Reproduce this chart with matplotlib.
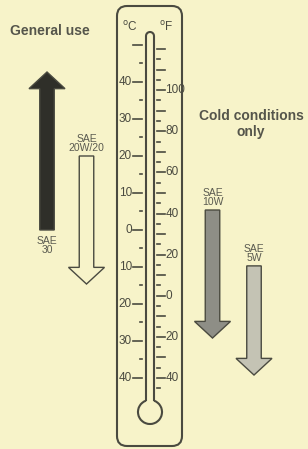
import matplotlib.pyplot as plt
from matplotlib.patches import FancyBboxPatch, Arc

# oil grades and the temperature range (deg C) each one covers
grades = ["SAE\n30", "SAE\n20W/20", "SAE\n10W", "SAE\n5W"]
range_start = [0, 20, 5.4, -9.7]
range_end = [42.7, -14.6, -29.2, -39.2]
arrow_x = [47, 86.5, 212.5, 254]
arrow_fill = ["#2f2f29", "#f7f3c9", "#8e8e86", "#c4c3b4"]

# thermometer scales
c_major = [50, 40, 30, 20, 10, 0, -10, -20, -30, -40]
c_minor = [45, 35, 25, 15, 5, -5, -15, -25, -35]
f_ticks = list(range(120, -50, -5))
f_labels = [100, 80, 60, 40, 20, 0, -20, -40]

BG = "#f7f3c9"
INK = "#4a4a40"

fig = plt.figure(figsize=(3.08, 4.49), dpi=100, facecolor=BG)

# pixel-space layer for the thermometer body
frame = fig.add_axes([0, 0, 1, 1])
frame.set_xlim(0, 308)
frame.set_ylim(449, 0)
frame.axis("off")
frame.set_facecolor(BG)

body = FancyBboxPatch((117, 6), 65, 440, boxstyle="round,pad=0,rounding_size=10",
                      facecolor="none", edgecolor=INK, lw=1.5)
frame.add_patch(body)
# tube and bulb
frame.plot([146, 146], [36, 400.7], color=INK, lw=1.5, solid_capstyle="butt")
frame.plot([154, 154], [36, 400.7], color=INK, lw=1.5, solid_capstyle="butt")
frame.add_patch(Arc((150, 36), 8, 8, theta1=180, theta2=360, color=INK, lw=1.5))
frame.add_patch(Arc((150, 412), 24, 24, theta1=289.5, theta2=250.5, color=INK, lw=1.5))

frame.text(122, 27, r"$^{\mathrm{o}}$C", fontsize=8.5, color=INK, family="Liberation Sans", va="center")
frame.text(159, 27, r"$^{\mathrm{o}}$F", fontsize=8.5, color=INK, family="Liberation Sans", va="center")

frame.text(50, 31, "General use", fontsize=10, fontweight="bold", color="#55554b",
           family="Liberation Sans", ha="center", va="center")
frame.text(251, 124, "Cold conditions\nonly", fontsize=10, fontweight="bold", color="#55554b",
           family="Liberation Sans", ha="center", va="center", linespacing=1.2)

# temperature layer: x in pixels, y in deg C
ax = fig.add_axes([0, 0, 1, 1])
ax.set_xlim(0, 308)
ax.set_ylim(-59.19, 62.16)
ax.axis("off")
ax.patch.set_alpha(0)

num_kw = dict(fontsize=8.5, color=INK, family="Liberation Sans", va="center")

for c in c_major:
    ax.plot([133, 142], [c, c], color=INK, lw=1.2)
    if c != 50:
        ax.text(132, c, str(abs(c)), ha="right", **num_kw)
for c in c_minor:
    ax.plot([139.5, 142], [c, c], color=INK, lw=1.2)

for f in f_ticks:
    y = (f - 32) * 5 / 9
    x1 = 165 if f % 10 == 0 else 160
    ax.plot([157, x1], [y, y], color=INK, lw=1.2)
    if f in f_labels:
        ax.text(165.5, y, str(abs(f)), ha="left", **num_kw)

for name, y0, y1, x, col in zip(grades, range_start, range_end, arrow_x, arrow_fill):
    ax.arrow(x, y0, 0, y1 - y0, width=14.5, head_width=36, head_length=4.5,
             length_includes_head=True, facecolor=col, edgecolor=INK, lw=1.0)
    if y1 > y0:
        ax.annotate(name, (x, y0), xytext=(0, -4), textcoords="offset points",
                    ha="center", va="top", fontsize=7.5, color="#5a5a50",
                    family="Liberation Sans", linespacing=0.95)
    else:
        ax.annotate(name, (x, y0), xytext=(0, 2), textcoords="offset points",
                    ha="center", va="bottom", fontsize=7.5, color="#5a5a50",
                    family="Liberation Sans", linespacing=0.95)

fig.savefig("out.png", dpi=100, facecolor=BG)
